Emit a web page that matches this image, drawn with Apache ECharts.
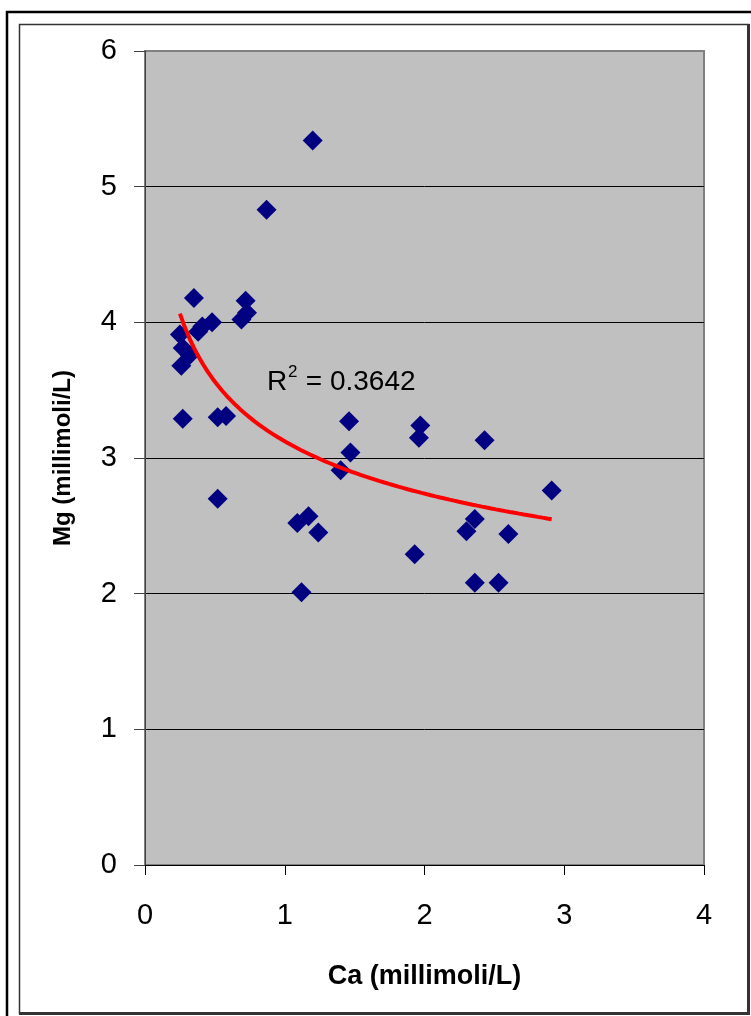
<!DOCTYPE html>
<html>
<head>
<meta charset="utf-8">
<script src="https://cdn.jsdelivr.net/npm/echarts@6/dist/echarts.min.js"></script>
<style>
  html, body { margin: 0; padding: 0; background: #fff; }
  #chart { width: 751px; height: 1016px; }
</style>
</head>
<body>
<div id="chart"></div>
<script>
// Calcium and magnesium concentrations per sample (millimoli/L)
const ca = [1.20, 0.87, 0.35, 0.72, 0.73, 0.69, 0.48, 0.41, 0.38, 0.25,
            0.27, 0.32, 0.26, 0.27, 0.52, 0.58, 0.52, 1.12, 1.09, 1.17,
            1.24, 1.40, 1.46, 1.47, 1.97, 1.96, 1.93, 2.43, 2.30, 2.36,
            2.36, 2.53, 2.60, 2.91];
const mg = [5.34, 4.83, 4.18, 4.16, 4.07, 4.02, 4.00, 3.97, 3.93, 3.91,
            3.81, 3.76, 3.68, 3.29, 3.30, 3.31, 2.70, 2.01, 2.52, 2.57,
            2.45, 2.91, 3.27, 3.04, 3.24, 3.15, 2.29, 3.13, 2.46, 2.55,
            2.08, 2.08, 2.44, 2.76];

const xTicks = [0, 1, 2, 3, 4];
const yTicks = [0, 1, 2, 3, 4, 5, 6];
const xTitle = 'Ca (millimoli/L)';
const yTitle = 'Mg (millimoli/L)';
const r2Value = '0.3642';

// Power-law least-squares trend (fit in log-log space): mg = c * ca^k
function powerFit(xs, ys) {
  const n = xs.length;
  let sx = 0, sy = 0, sxx = 0, sxy = 0;
  for (let i = 0; i < n; i++) {
    const lx = Math.log(xs[i]), ly = Math.log(ys[i]);
    sx += lx; sy += ly; sxx += lx * lx; sxy += lx * ly;
  }
  const k = (n * sxy - sx * sy) / (n * sxx - sx * sx);
  const c = Math.exp((sy - k * sx) / n);
  return { c, k };
}
const fit = powerFit(ca, mg);
const xMin = Math.min(...ca), xMax = Math.max(...ca);
const trend = [];
for (let i = 0; i <= 80; i++) {
  const x = xMin + (xMax - xMin) * i / 80;
  trend.push([x, fit.c * Math.pow(x, fit.k)]);
}

const points = ca.map((c, i) => [c, mg[i]]);
const FONT = "'Liberation Sans', Arial, sans-serif";

const chart = echarts.init(document.getElementById('chart'), null, { renderer: 'canvas' });
chart.setOption({
  animation: false,
  backgroundColor: '#ffffff',
  textStyle: { fontFamily: FONT, color: '#000' },
  grid: {
    left: 145, top: 51, width: 559, height: 814,
    show: true, backgroundColor: '#C0C0C0',
    borderColor: '#808080', borderWidth: 2
  },
  xAxis: {
    type: 'value', min: xTicks[0], max: xTicks[xTicks.length - 1], interval: 1,
    axisLine: { show: true, onZero: false, lineStyle: { color: '#000', width: 1 } },
    axisTick: { show: true, length: 10, lineStyle: { color: '#000' } },
    axisLabel: { margin: 36, fontSize: 29, color: '#000', fontFamily: FONT },
    splitLine: { show: false },
    name: xTitle, nameLocation: 'middle', nameGap: 98,
    nameTextStyle: { fontSize: 27, fontWeight: 'bold', color: '#000', fontFamily: FONT }
  },
  yAxis: {
    type: 'value', min: yTicks[0], max: yTicks[yTicks.length - 1], interval: 1,
    axisLine: { show: true, onZero: false, lineStyle: { color: '#404040', width: 1 } },
    axisTick: { show: true, length: 11, lineStyle: { color: '#404040' } },
    axisLabel: { margin: 28, fontSize: 29, color: '#000', fontFamily: FONT },
    splitLine: { show: true, showMinLine: false, showMaxLine: false,
                 lineStyle: { color: '#000', width: 1 } },
    name: yTitle, nameLocation: 'middle', nameGap: 70,
    nameTextStyle: { fontSize: 24, fontWeight: 'bold', color: '#000', fontFamily: FONT }
  },
  series: [
    {
      type: 'scatter', data: points, symbol: 'diamond', symbolSize: 20,
      itemStyle: { color: '#000080', opacity: 1 }, z: 3
    },
    {
      type: 'line', data: trend, showSymbol: false, smooth: false,
      lineStyle: { color: '#FF0000', width: 4 }, z: 4, silent: true
    }
  ],
  graphic: [
    // outer frame
    { type: 'rect', shape: { x: 7, y: 12, width: 800, height: 1100 },
      style: { fill: null, stroke: '#000', lineWidth: 2.5 }, silent: true },
    // inner frame with heavier right / bottom edge
    { type: 'rect', shape: { x: 19.5, y: 24.5, width: 729, height: 989 },
      style: { fill: null, stroke: '#333', lineWidth: 1.5 }, silent: true },
    { type: 'line', shape: { x1: 748.5, y1: 24, x2: 748.5, y2: 1015 },
      style: { stroke: '#333', lineWidth: 3 }, silent: true },
    { type: 'line', shape: { x1: 19, y1: 1013.5, x2: 750, y2: 1013.5 },
      style: { stroke: '#333', lineWidth: 3 }, silent: true },
    // goodness-of-fit label: R, superscript 2, then the value
    { type: 'text', left: 267, top: 368, z: 10,
      style: { text: 'R', fontSize: 28, fontFamily: FONT, fill: '#000' } },
    { type: 'text', left: 288, top: 364, z: 10,
      style: { text: '2', fontSize: 17, fontFamily: FONT, fill: '#000' } },
    { type: 'text', left: 298, top: 368, z: 10,
      style: { text: ' = ' + r2Value, fontSize: 28, fontFamily: FONT, fill: '#000' } }
  ]
});
</script>
</body>
</html>
